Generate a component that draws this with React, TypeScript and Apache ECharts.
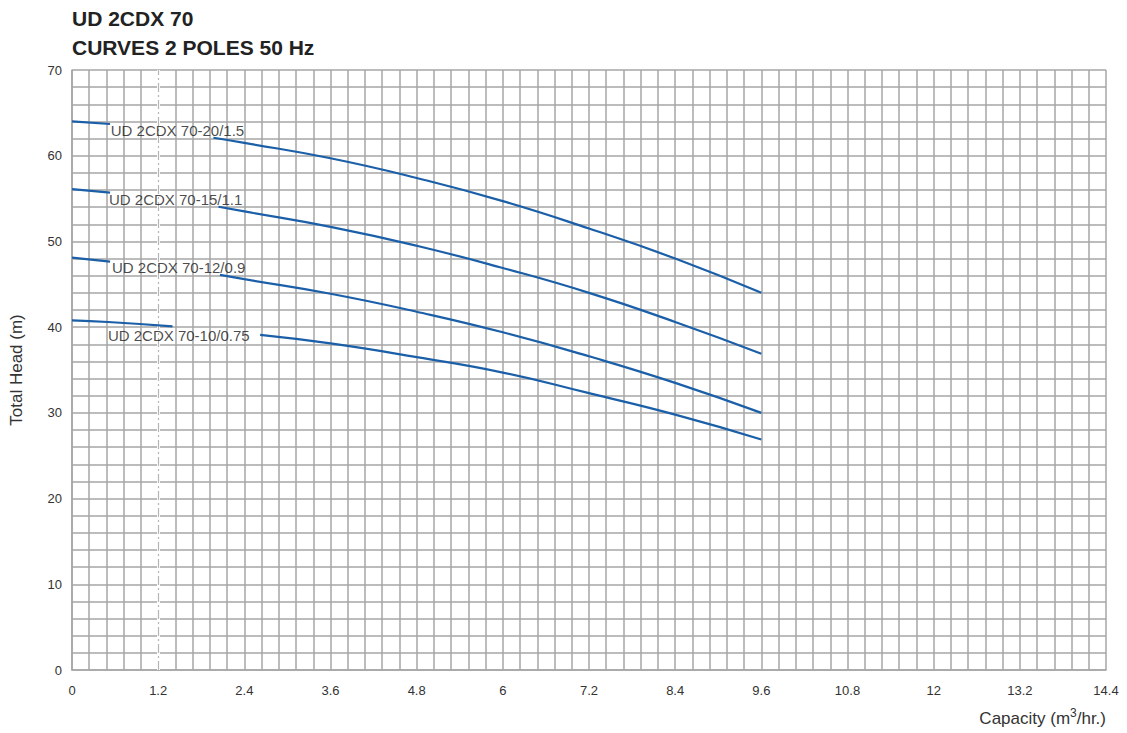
import React, { useEffect, useRef } from "react";
import * as echarts from "echarts";

const titleLines = ["UD 2CDX 70", "CURVES 2 POLES 50 Hz"];
const xAxisNameMain = "Capacity (m";
const xAxisNameSup = "3";
const xAxisNameEnd = "/hr.)";
const yAxisName = "Total Head (m)";

// Pump curves: segment before the label and segment after the label
const pump20Left = [[0, 64.0], [0.53, 63.7]];
const pump20Right = [[1.97, 62.1], [2.4, 61.5], [3.6, 59.7], [4.8, 57.4], [6.0, 54.7], [7.2, 51.5], [8.4, 48.0], [9.6, 44.0]];
const pump15Left = [[0, 56.1], [0.53, 55.7]];
const pump15Right = [[2.04, 54.05], [2.4, 53.5], [3.6, 51.7], [4.8, 49.5], [6.0, 46.9], [7.2, 44.0], [8.4, 40.6], [9.6, 36.9]];
const pump12Left = [[0, 48.1], [0.53, 47.65]];
const pump12Right = [[2.06, 46.1], [2.4, 45.6], [3.6, 43.9], [4.8, 41.8], [6.0, 39.4], [7.2, 36.6], [8.4, 33.5], [9.6, 30.0]];
const pump10Left = [[0, 40.8], [0.5, 40.6], [1.4, 40.1]];
const pump10Right = [[2.62, 39.1], [3.6, 38.1], [4.8, 36.5], [6.0, 34.7], [7.2, 32.3], [8.4, 29.8], [9.6, 26.9]];

const curveLabels = [
  [0.54, 63.0, "UD 2CDX 70-20/1.5"],
  [0.515, 54.95, "UD 2CDX 70-15/1.1"],
  [0.557, 47.0, "UD 2CDX 70-12/0.9"],
  [0.5, 38.97, "UD 2CDX 70-10/0.75"],
];

const referenceQ = 1.2;

const FONT = "'Liberation Sans', Arial, Helvetica, sans-serif";
const GRID = "#a6a6a6";
const BLUE = "#1a5fa8";

export default function App() {
  const ref = useRef<HTMLDivElement>(null);
  useEffect(() => {
    document.body.style.margin = "0";
    const chart = echarts.init(ref.current!, null, { renderer: "svg" });
    const curve = (data: number[][]) => ({
      type: "line",
      data,
      smooth: true,
      showSymbol: false,
      symbol: "none",
      lineStyle: { color: BLUE, width: 2.2 },
      silent: true,
      z: 5,
    });
    chart.setOption({
      animation: false,
      backgroundColor: "#ffffff",
      textStyle: { fontFamily: FONT },
      title: {
        text: titleLines.join("\n"),
        left: 72,
        top: 4,
        padding: 0,
        textStyle: { fontFamily: FONT, fontSize: 21, fontWeight: "bold", color: "#222", lineHeight: 29 },
      },
      grid: { left: 72, right: 21, top: 70, bottom: 63, containLabel: false, outerBoundsMode: "none" },
      xAxis: {
        type: "value",
        min: 0,
        max: 14.4,
        interval: 1.2,
        axisLine: { show: true, lineStyle: { color: GRID, width: 1.5 } },
        axisTick: { show: false },
        axisLabel: {
          margin: 14,
          fontSize: 13,
          color: "#333",
          fontFamily: FONT,
          formatter: (v: number) => String(parseFloat(v.toFixed(2))),
        },
        splitLine: { show: true, lineStyle: { color: GRID, width: 1.5 } },
        minorTick: { show: false, splitNumber: 5 },
        minorSplitLine: { show: true, lineStyle: { color: GRID, width: 1.5 } },
      },
      yAxis: {
        type: "value",
        min: 0,
        max: 70,
        interval: 10,
        name: yAxisName,
        nameLocation: "middle",
        nameGap: 47,
        nameRotate: 90,
        nameTextStyle: { fontSize: 17, color: "#333", fontFamily: FONT },
        axisLine: { show: true, lineStyle: { color: GRID, width: 1.5 } },
        axisTick: { show: false },
        axisLabel: { margin: 10, fontSize: 13, color: "#333", fontFamily: FONT },
        splitLine: { show: true, lineStyle: { color: GRID, width: 1.5 } },
        minorTick: { show: false, splitNumber: 5 },
        minorSplitLine: { show: true, lineStyle: { color: GRID, width: 1.5 } },
      },
      graphic: [
        {
          type: "text",
          right: 21,
          top: 707,
          style: {
            text: `{a|${xAxisNameMain}}{s|${xAxisNameSup}}{a|${xAxisNameEnd}}`,
            fill: "#333",
            rich: {
              a: { fontSize: 17, fontFamily: FONT, color: "#333", verticalAlign: "bottom", lineHeight: 20 },
              s: { fontSize: 12, fontFamily: FONT, color: "#333", verticalAlign: "top", lineHeight: 20, padding: [0, 0, 6, 0] },
            },
          },
        },
      ],
      series: [
        {
          type: "line",
          data: [],
          markLine: {
            silent: true,
            symbol: "none",
            label: { show: false },
            lineStyle: { color: "#ffffff", width: 3, type: "solid" },
            data: [{ xAxis: referenceQ }],
          },
          z: 2,
        },
        {
          type: "line",
          data: [],
          markLine: {
            silent: true,
            symbol: "none",
            label: { show: false },
            lineStyle: { color: "#b5b5b5", width: 1.2, type: [9, 3, 2, 3] },
            data: [{ xAxis: referenceQ }],
          },
          z: 3,
        },
        curve(pump20Left),
        curve(pump20Right),
        curve(pump15Left),
        curve(pump15Right),
        curve(pump12Left),
        curve(pump12Right),
        curve(pump10Left),
        curve(pump10Right),
        {
          type: "scatter",
          data: curveLabels,
          symbolSize: 0,
          silent: true,
          z: 6,
          label: {
            show: true,
            position: "right",
            distance: 0,
            formatter: (p: any) => p.data[2],
            fontSize: 15,
            color: "#1a1a1a",
            fontFamily: FONT,
          },
        },
      ],
    });
    return () => chart.dispose();
  }, []);
  return <div ref={ref} style={{ position: "absolute", left: 0, top: 0, width: 1127, height: 733 }} />;
}
